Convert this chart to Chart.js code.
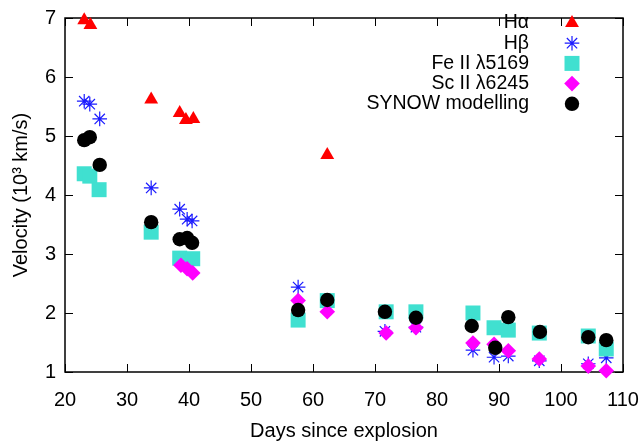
<!DOCTYPE html>
<html>
<head>
<meta charset="utf-8">
<title>Velocity evolution</title>
<script src="https://cdn.jsdelivr.net/npm/chart.js@4/dist/chart.umd.min.js"></script>
<style>
  body { margin: 0; background: #fff; }
  canvas { display: block; }
</style>
</head>
<body>
<canvas id="chart" width="643" height="443"></canvas>
<script>
// Days since explosion and velocities (10^3 km/s)
const haDays = [23.1, 24.1, 33.9, 38.5, 39.5, 40.7, 62.3];
const haVel = [6.96, 6.88, 5.62, 5.39, 5.27, 5.29, 4.68];

const hbDays = [23.1, 24.0, 25.6, 33.9, 38.5, 39.7, 40.5, 57.6, 71.6, 76.6, 85.8, 89.2, 91.5, 96.5, 104.4, 107.3];
const hbVel = [5.59, 5.54, 5.29, 4.12, 3.76, 3.59, 3.56, 2.44, 1.69, 1.76, 1.37, 1.25, 1.27, 1.19, 1.14, 1.24];

const feDays = [23.1, 24.0, 25.5, 33.9, 38.5, 40.6, 57.6, 62.3, 71.8, 76.6, 85.8, 89.2, 91.5, 96.5, 104.4, 107.3];
const feVel = [4.36, 4.32, 4.09, 3.37, 2.93, 2.92, 1.88, 2.21, 2.02, 2.02, 2.00, 1.75, 1.71, 1.66, 1.61, 1.39];

const scDays = [38.7, 39.7, 40.6, 57.6, 62.3, 71.8, 76.6, 85.8, 89.2, 91.5, 96.5, 104.4, 107.3];
const scVel = [2.81, 2.75, 2.68, 2.21, 2.02, 1.66, 1.75, 1.49, 1.47, 1.36, 1.22, 1.10, 1.02];

const synDays = [23.1, 24.0, 25.6, 33.9, 38.5, 39.7, 40.5, 57.6, 62.3, 71.6, 76.6, 85.6, 89.4, 91.5, 96.6, 104.4, 107.3];
const synVel = [4.93, 4.98, 4.51, 3.54, 3.25, 3.27, 3.19, 2.05, 2.22, 2.02, 1.92, 1.78, 1.41, 1.93, 1.68, 1.59, 1.54];

const xTicks = [20, 30, 40, 50, 60, 70, 80, 90, 100, 110];
const yTicks = [1, 2, 3, 4, 5, 6, 7];

const FONT = 'Liberation Sans, Arial, Helvetica, sans-serif';

function pairs(xs, ys) {
  return xs.map((x, i) => ({ x: x, y: ys[i] }));
}

// Frame with inward ticks on all four sides (gnuplot style)
const framePlugin = {
  id: 'frame',
  beforeDatasetsDraw(chart) {
    const { ctx, chartArea: a, scales } = chart;
    const len = 8;
    ctx.save();
    ctx.strokeStyle = '#000';
    ctx.lineWidth = 1;
    ctx.beginPath();
    xTicks.forEach(v => {
      const px = Math.round(scales.x.getPixelForValue(v)) + 0.5;
      ctx.moveTo(px, a.bottom); ctx.lineTo(px, a.bottom - len);
      ctx.moveTo(px, a.top); ctx.lineTo(px, a.top + len);
    });
    yTicks.forEach(v => {
      const py = Math.round(scales.y.getPixelForValue(v)) + 0.5;
      ctx.moveTo(a.left, py); ctx.lineTo(a.left + len, py);
      ctx.moveTo(a.right, py); ctx.lineTo(a.right - len, py);
    });
    ctx.stroke();
    ctx.lineWidth = 1.5;
    ctx.strokeRect(a.left, a.top, a.right - a.left, a.bottom - a.top);
    ctx.restore();
  }
};

// Legend: label right-aligned, marker on the right
const keyPlugin = {
  id: 'key',
  afterDraw(chart) {
    const { ctx } = chart;
    ctx.save();
    ctx.font = '19.5px ' + FONT;
    ctx.textAlign = 'right';
    ctx.textBaseline = 'middle';
    chart.data.datasets.forEach((ds, i) => {
      const y = 23 + i * 20.2;
      ctx.fillStyle = '#000';
      ctx.fillText(ds.label, 529, y);
      ctx.fillStyle = ds.backgroundColor;
      ctx.strokeStyle = ds.borderColor;
      ctx.lineWidth = ds.borderWidth;
      Chart.helpers.drawPoint(ctx, {
        pointStyle: ds.pointStyle,
        radius: ds.pointRadius,
        borderWidth: ds.borderWidth,
        rotation: 0
      }, 572, y);
    });
    ctx.restore();
  }
};

const datasets = [
  {
    label: 'H\u03b1', data: pairs(haDays, haVel), pointStyle: 'triangle',
    pointRadius: 8, backgroundColor: '#ff0000', borderColor: '#ff0000', borderWidth: 0, order: 4
  },
  {
    label: 'H\u03b2', data: pairs(hbDays, hbVel), pointStyle: 'star',
    pointRadius: 7.3, backgroundColor: '#1a1aff', borderColor: '#1a1aff', borderWidth: 1.2, order: 3
  },
  {
    label: 'Fe II \u03bb5169', data: pairs(feDays, feVel), pointStyle: 'rect',
    pointRadius: 10.6, backgroundColor: '#40e0d0', borderColor: '#40e0d0', borderWidth: 0, order: 2
  },
  {
    label: 'Sc II \u03bb6245', data: pairs(scDays, scVel), pointStyle: 'rectRot',
    pointRadius: 7.8, backgroundColor: '#ff00ff', borderColor: '#ff00ff', borderWidth: 0, order: 1
  },
  {
    label: 'SYNOW modelling', data: pairs(synDays, synVel), pointStyle: 'circle',
    pointRadius: 7.2, backgroundColor: '#000000', borderColor: '#000000', borderWidth: 0, order: 0
  }
];

datasets.forEach(ds => {
  ds.showLine = false;
  ds.clip = false;
  ds.pointHoverRadius = ds.pointRadius;
});

new Chart(document.getElementById('chart'), {
  type: 'scatter',
  data: { datasets: datasets },
  options: {
    responsive: false,
    animation: false,
    layout: { padding: { top: 18, right: 20, left: 0, bottom: 0 } },
    plugins: {
      legend: { display: false },
      tooltip: { enabled: false }
    },
    scales: {
      x: {
        type: 'linear',
        min: 20,
        max: 110,
        afterBuildTicks: scale => { scale.ticks = xTicks.map(v => ({ value: v })); },
        afterFit: scale => {
          scale.height = 71;
          scale.paddingLeft = 0;
          scale.paddingRight = 0;
        },
        grid: { display: false, drawTicks: false },
        border: { display: false },
        ticks: { color: '#000', font: { family: FONT, size: 20 }, padding: 16, maxRotation: 0 },
        title: {
          display: true,
          text: 'Days since explosion',
          color: '#000',
          font: { family: FONT, size: 20 },
          padding: { top: -1, bottom: 0 }
        }
      },
      y: {
        type: 'linear',
        min: 1,
        max: 7,
        afterBuildTicks: scale => { scale.ticks = yTicks.map(v => ({ value: v })); },
        afterFit: scale => {
          scale.width = 65;
          scale.paddingTop = 0;
          scale.paddingBottom = 0;
        },
        grid: { display: false, drawTicks: false },
        border: { display: false },
        ticks: { color: '#000', font: { family: FONT, size: 20 }, padding: 9 },
        title: {
          display: true,
          text: 'Velocity (10\u00b3 km/s)',
          color: '#000',
          font: { family: FONT, size: 20 },
          padding: { top: 9, bottom: 0 }
        }
      }
    }
  },
  plugins: [framePlugin, keyPlugin]
});
</script>
</body>
</html>
